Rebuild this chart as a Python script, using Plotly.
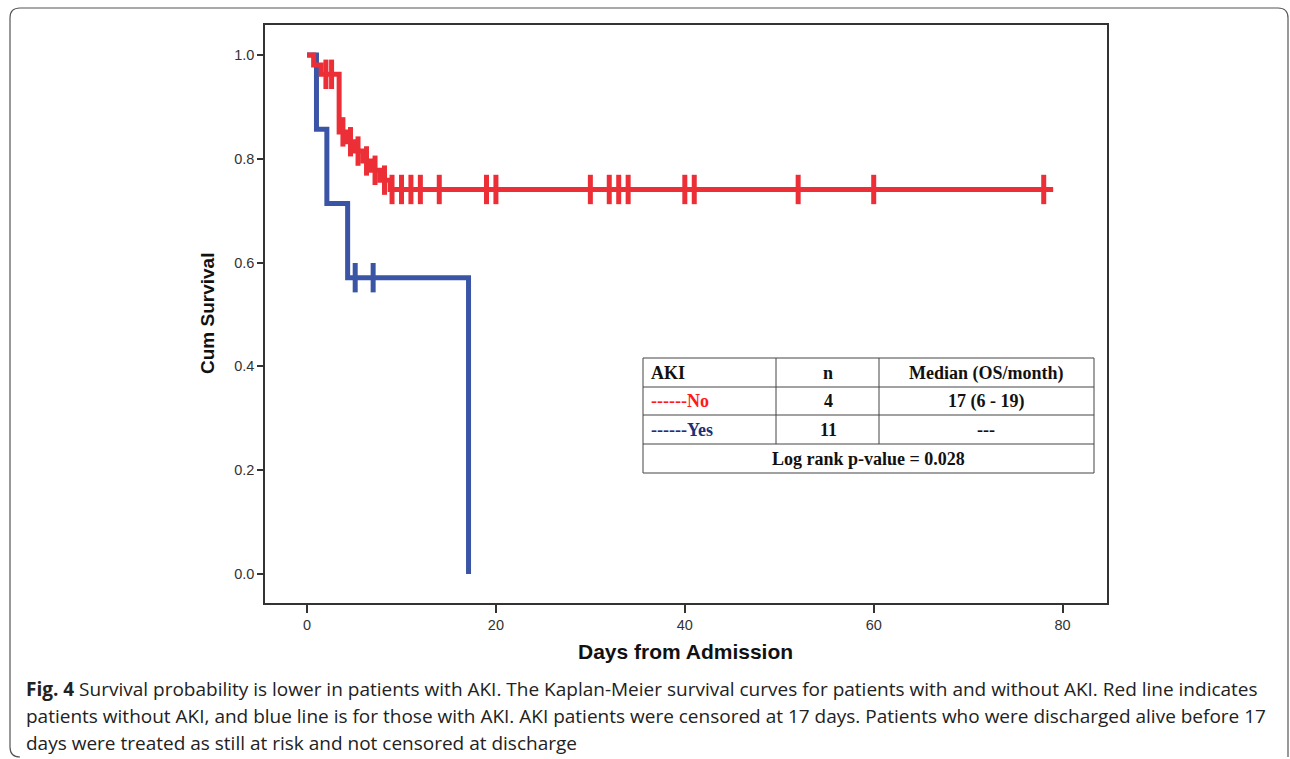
import plotly.graph_objects as go

# ---------------- data ----------------
red_time = [0, 0.7, 1.5, 3.4, 4.2, 5.0, 5.9, 6.8, 7.7, 8.8, 79]
red_surv = [1.0, 0.981, 0.963, 0.852, 0.833, 0.815, 0.796, 0.778, 0.759, 0.741, 0.741]
red_cens_time = [2.0, 2.6, 3.8, 4.6, 5.4, 6.3, 7.2, 8.2,
                 9, 10, 11, 12, 14, 19, 20, 30, 32, 33, 34, 40, 41, 52, 60, 78]
red_cens_surv = [0.963, 0.963, 0.852, 0.833, 0.815, 0.796, 0.778, 0.759] + [0.741] * 16

blue_time = [0, 1.0, 2.1, 4.3, 17.1]
blue_surv = [1.0, 0.857, 0.714, 0.571, 0.0]
blue_cens_time = [5.1, 7.0]
blue_cens_surv = [0.571, 0.571]

x_ticks = [0, 20, 40, 60, 80]
y_ticks = [0.0, 0.2, 0.4, 0.6, 0.8, 1.0]

table_header = ["AKI", "n", "Median (OS/month)"]
table_no = ["------No", "4", "17 (6 - 19)"]
table_yes = ["------Yes", "11", "---"]
table_footer = "Log rank p-value = 0.028"

caption_lines = [
    "<b>Fig. 4</b> Survival probability is lower in patients with AKI. The Kaplan-Meier survival curves for patients with and without AKI. Red line indicates",
    "patients without AKI, and blue line is for those with AKI. AKI patients were censored at 17 days. Patients who were discharged alive before 17",
    "days were treated as still at risk and not censored at discharge",
]

RED = "#ec2f37"
BLUE = "#3b55a6"

# ---------------- layout geometry (pixels) ----------------
W, H = 1290, 759
L, R, T, B = 265, 1107, 25, 603


def px_x(x):
    return (x - L) / (R - L)


def px_y(y):
    return (B - y) / (B - T)


fig = go.Figure()

fig.add_trace(go.Scatter(x=blue_time, y=blue_surv, mode="lines", line_shape="hv",
                         line=dict(color=BLUE, width=5), showlegend=False, hoverinfo="skip"))
fig.add_trace(go.Scatter(x=blue_cens_time, y=blue_cens_surv, mode="markers",
                         marker=dict(symbol="line-ns", size=21, line=dict(color=BLUE, width=5)),
                         showlegend=False, hoverinfo="skip"))
fig.add_trace(go.Scatter(x=red_time, y=red_surv, mode="lines", line_shape="hv",
                         line=dict(color=RED, width=5), showlegend=False, hoverinfo="skip"))
fig.add_trace(go.Scatter(x=red_cens_time, y=red_cens_surv, mode="markers",
                         marker=dict(symbol="line-ns", size=21, line=dict(color=RED, width=5)),
                         showlegend=False, hoverinfo="skip"))

shapes = []
# outer page border
bx0, by0, bx1, by1, rr = 10, 8, 1288, 757, 10
path = (f"M {px_x(bx0+rr)},{px_y(by1)} Q {px_x(bx0)},{px_y(by1)} {px_x(bx0)},{px_y(by1-rr)} "
        f"L {px_x(bx0)},{px_y(by0+rr)} Q {px_x(bx0)},{px_y(by0)} {px_x(bx0+rr)},{px_y(by0)} "
        f"L {px_x(bx1-rr)},{px_y(by0)} Q {px_x(bx1)},{px_y(by0)} {px_x(bx1)},{px_y(by0+rr)} "
        f"L {px_x(bx1)},{px_y(by1)}")
shapes.append(dict(type="path", xref="paper", yref="paper", path=path,
                   line=dict(color="#555555", width=1.2)))

# table
tx0, tx1, ty0, ty1 = 643, 1094, 358, 473
row_lines = [387, 415, 444]
col_lines = [776, 879]
tline = dict(color="#444444", width=1)
shapes.append(dict(type="rect", xref="paper", yref="paper",
                   x0=px_x(tx0), x1=px_x(tx1), y0=px_y(ty0), y1=px_y(ty1),
                   line=tline, fillcolor="white"))
for ry in row_lines:
    shapes.append(dict(type="line", xref="paper", yref="paper",
                       x0=px_x(tx0), x1=px_x(tx1), y0=px_y(ry), y1=px_y(ry), line=tline))
for cx in col_lines:
    shapes.append(dict(type="line", xref="paper", yref="paper",
                       x0=px_x(cx), x1=px_x(cx), y0=px_y(ty0), y1=px_y(row_lines[2]), line=tline))

ann = []
tfont = dict(family="Liberation Serif", size=18, color="#111111")
row_centers = [373, 401, 430]
col_centers = [None, 828, 986]
rows = [(table_header, "#111111"), (table_no, "#ff1a1a"), (table_yes, "#1c2f78")]
for (vals, c0), yc in zip(rows, row_centers):
    ann.append(dict(x=px_x(649), y=px_y(yc), xref="paper", yref="paper", text=f"<b>{vals[0]}</b>",
                    showarrow=False, xanchor="left", yanchor="middle",
                    font=dict(family="Liberation Serif", size=18, color=c0)))
    for v, xc in zip(vals[1:], col_centers[1:]):
        ann.append(dict(x=px_x(xc), y=px_y(yc), xref="paper", yref="paper", text=f"<b>{v}</b>",
                        showarrow=False, xanchor="center", yanchor="middle", font=tfont))
ann.append(dict(x=px_x(868), y=px_y(459), xref="paper", yref="paper", text=f"<b>{table_footer}</b>",
                showarrow=False, xanchor="center", yanchor="middle", font=tfont))

# axis titles
ann.append(dict(x=px_x(207), y=px_y(314), xref="paper", yref="paper", text="<b>Cum Survival</b>",
                showarrow=False, textangle=-90, xanchor="center", yanchor="middle",
                font=dict(family="Liberation Sans", size=19, color="#111111")))
ann.append(dict(x=px_x(685), y=px_y(651), xref="paper", yref="paper", text="<b>Days from Admission</b>",
                showarrow=False, xanchor="center", yanchor="middle",
                font=dict(family="Liberation Sans", size=21, color="#111111")))

# caption
cap_y = [689, 716, 743]
for line, yc in zip(caption_lines, cap_y):
    ann.append(dict(x=px_x(24), y=px_y(yc), xref="paper", yref="paper", text=line,
                    showarrow=False, xanchor="left", yanchor="middle",
                    font=dict(family="Open Sans", size=19, color="#222222")))

axis_common = dict(showline=True, linecolor="#333333", linewidth=1.5, mirror=True,
                   ticks="outside", tickcolor="#333333", tickwidth=1.5,
                   showgrid=False, zeroline=False,
                   tickfont=dict(family="Liberation Sans", size=14.5, color="#333333"))

fig.update_layout(
    width=W, height=H, autosize=False,
    margin=dict(l=L, r=W - R, t=T, b=H - B),
    paper_bgcolor="white", plot_bgcolor="white",
    xaxis=dict(range=[-4.45, 84.7], tickvals=x_ticks, ticklen=8, **axis_common),
    yaxis=dict(range=[-0.056, 1.058], tickvals=y_ticks, tickformat=".1f", ticklen=6, **axis_common),
    shapes=shapes, annotations=ann,
)

fig.write_html("out.html", config={"displayModeBar": False},
               post_script="document.body.style.margin='0';")
